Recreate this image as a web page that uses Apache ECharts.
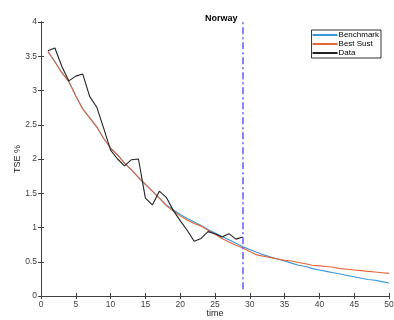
<!DOCTYPE html>
<html><head><meta charset="utf-8">
<script src="https://cdn.jsdelivr.net/npm/echarts@6/dist/echarts.min.js"></script>
<style>html,body{margin:0;padding:0;background:#fff}#c{width:394px;height:320px}</style>
</head><body><div id="c"></div>
<script>
var dataTime = [1,2,3,4,5,6,7,8,9,10,11,12,13,14,15,16,17,18,19,20,21,22,23,24,25,26,27,28,29];
var dataValues = [3.58,3.62,3.35,3.14,3.21,3.24,2.91,2.76,2.45,2.13,2.00,1.90,1.99,2.00,1.43,1.33,1.53,1.44,1.25,1.10,0.96,0.80,0.84,0.94,0.91,0.86,0.91,0.83,0.86];
var simTime = [1,2,3,4,5,6,7,8,9,10,11,12,13,14,15,16,17,18,19,20,21,22,23,24,25,26,27,28,29,30,31,32,33,34,35,36,37,38,39,40,41,42,43,44,45,46,47,48,49,50];
var bestSust = [3.57,3.42,3.26,3.13,2.92,2.73,2.60,2.47,2.30,2.16,2.06,1.94,1.84,1.73,1.63,1.53,1.43,1.32,1.24,1.17,1.11,1.06,1.02,0.96,0.90,0.84,0.79,0.74,0.70,0.65,0.60,0.58,0.56,0.54,0.52,0.51,0.49,0.47,0.45,0.44,0.43,0.42,0.40,0.39,0.38,0.37,0.36,0.35,0.34,0.33];
var benchmark = [3.57,3.42,3.26,3.13,2.92,2.73,2.60,2.47,2.30,2.16,2.06,1.94,1.84,1.73,1.63,1.53,1.43,1.33,1.26,1.19,1.13,1.08,1.03,0.97,0.92,0.87,0.82,0.77,0.72,0.68,0.64,0.60,0.57,0.54,0.51,0.48,0.45,0.43,0.40,0.38,0.36,0.34,0.32,0.30,0.28,0.26,0.24,0.23,0.21,0.19];
var cutoffTime = 29;
var xTicks = [0,5,10,15,20,25,30,35,40,45,50];
var yTicks = [0,0.5,1,1.5,2,2.5,3,3.5,4];

function pairs(xs, ys){ return xs.map(function(x,i){return [x, ys[i]];}); }
var chart = echarts.init(document.getElementById('c'), null, {renderer:'canvas'});
var axisCol = '#404040';
var ff = 'Liberation Sans, Arial, sans-serif';
var lbl = {color:'#404040', fontSize:8.5, fontFamily:ff};
chart.setOption({
  animation:false,
  backgroundColor:'#fff',
  title:{text:'Norway', left:200, top:9,
    textStyle:{fontSize:9, fontWeight:'bold', color:'#000', fontFamily:ff}},
  grid:{left:41, right:5, top:22, bottom:24, containLabel:false, outerBoundsMode:'none'},
  legend:{right:13, top:30, orient:'vertical', itemWidth:25, itemHeight:2, itemGap:1,
    padding:[1,2,1,1], borderColor:'#000', borderWidth:0.8, backgroundColor:'#fff',
    icon:'rect',
    textStyle:{fontSize:8, color:'#000', padding:[0,0,0,-4], fontFamily:ff},
    data:['Benchmark','Best Sust','Data']},
  xAxis:[
    {type:'value', min:0, max:50, interval:5, position:'bottom',
     name:'time', nameLocation:'middle', nameGap:13, nameMoveOverlap:false,
     nameTextStyle:{fontSize:9, color:'#222', fontFamily:ff},
     axisLine:{show:true, lineStyle:{color:axisCol, width:1}},
     axisTick:{show:true, inside:true, length:3, lineStyle:{color:axisCol}},
     axisLabel:Object.assign({margin:4, formatter:function(v){return xTicks.indexOf(v)>=0?String(v):'';}}, lbl),
     splitLine:{show:false}},
    {type:'value', min:0, max:50, interval:5, position:'top',
     axisLine:{show:true, lineStyle:{color:axisCol, width:1}},
     axisTick:{show:true, inside:true, length:3, lineStyle:{color:axisCol}},
     axisLabel:{show:false}, splitLine:{show:false}}
  ],
  yAxis:[
    {type:'value', min:0, max:4, interval:0.5, position:'left',
     name:'TSE %', nameLocation:'middle', nameGap:19, nameMoveOverlap:false, nameRotate:90,
     nameTextStyle:{fontSize:9, color:'#222', fontFamily:ff},
     axisLine:{show:true, lineStyle:{color:axisCol, width:1}},
     axisTick:{show:true, inside:true, length:3, lineStyle:{color:axisCol}},
     axisLabel:Object.assign({margin:4, formatter:function(v){return yTicks.indexOf(v)>=0?String(v):'';}}, lbl),
     splitLine:{show:false}},
    {type:'value', min:0, max:4, interval:0.5, position:'right',
     axisLine:{show:true, lineStyle:{color:axisCol, width:1}},
     axisTick:{show:true, inside:true, length:3, lineStyle:{color:axisCol}},
     axisLabel:{show:false}, splitLine:{show:false}}
  ],
  series:[
    {name:'Benchmark', type:'line', data:pairs(simTime, benchmark), showSymbol:false, symbol:'none',
     color:'#3a95d8', lineStyle:{width:1.1, color:'#3a95d8'}},
    {name:'Best Sust', type:'line', data:pairs(simTime, bestSust), showSymbol:false, symbol:'none',
     color:'#e2663a', lineStyle:{width:1.1, color:'#e2663a'}},
    {name:'Data', type:'line', data:pairs(dataTime, dataValues), showSymbol:false, symbol:'none',
     color:'#222', lineStyle:{width:1.1, color:'#222'},
     markLine:{silent:true, symbol:'none', label:{show:false},
       lineStyle:{color:'#5c5cff', width:1.5, opacity:1, type:[7,3,2,3]},
       emphasis:{disabled:true},
       data:[[{coord:[cutoffTime,0.1], lineStyle:{color:'#5c5cff'}},{coord:[cutoffTime,4]}]]}}
  ]
});
</script></body></html>
